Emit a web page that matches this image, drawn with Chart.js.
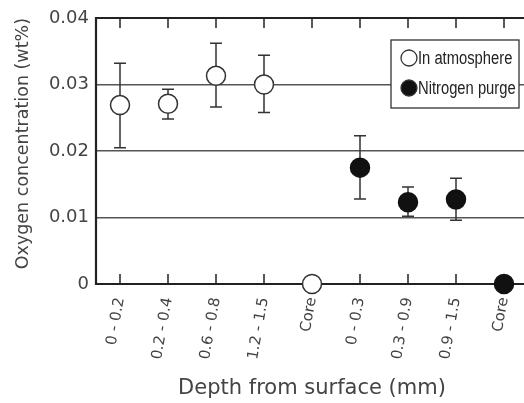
<!DOCTYPE html>
<html>
<head>
<meta charset="utf-8">
<script src="https://cdn.jsdelivr.net/npm/chart.js@4.4.0/dist/chart.umd.min.js"></script>
<style>
  html, body { margin: 0; padding: 0; background: #fff; overflow: hidden; }
  #wrap { width: 540px; height: 403px; }
</style>
</head>
<body>
<div id="wrap"><canvas id="chart" width="540" height="403"></canvas></div>
<script>
// categories along the depth axis
const depthLabels = ['0 - 0.2', '0.2 - 0.4', '0.6 - 0.8', '1.2 - 1.5', 'Core', '0 - 0.3', '0.3 - 0.9', '0.9 - 1.5', 'Core'];

// oxygen concentration (wt%)
const atmosphere    = [0.0269, 0.0271, 0.0313, 0.0300, 0, null, null, null, null];
const atmosphereHi  = [0.0332, 0.0293, 0.0362, 0.0344, null, null, null, null, null];
const atmosphereLo  = [0.0205, 0.0248, 0.0266, 0.0258, null, null, null, null, null];

const nitrogen      = [null, null, null, null, null, 0.0175, 0.0123, 0.0127, 0];
const nitrogenHi    = [null, null, null, null, null, 0.0223, 0.0146, 0.0159, null];
const nitrogenLo    = [null, null, null, null, null, 0.0128, 0.0102, 0.0096, null];

const yTicks = [0, 0.01, 0.02, 0.03, 0.04];

const ink = '#333';
const textInk = '#444';
const face = '"DejaVu Sans", sans-serif';

// error bars, drawn under the markers
const errorBars = {
  id: 'errorBars',
  beforeDatasetsDraw(chart) {
    const { ctx, scales: { x, y } } = chart;
    const sets = [[atmosphereHi, atmosphereLo], [nitrogenHi, nitrogenLo]];
    ctx.save();
    ctx.strokeStyle = ink;
    ctx.lineWidth = 1.5;
    sets.forEach(([hi, lo]) => {
      hi.forEach((h, i) => {
        if (h == null) return;
        const px = x.getPixelForValue(i);
        const top = y.getPixelForValue(h);
        const bot = y.getPixelForValue(lo[i]);
        ctx.beginPath();
        ctx.moveTo(px, top); ctx.lineTo(px, bot);
        ctx.moveTo(px - 6, top); ctx.lineTo(px + 6, top);
        ctx.moveTo(px - 6, bot); ctx.lineTo(px + 6, bot);
        ctx.stroke();
      });
    });
    ctx.restore();
  }
};

// frame and inward ticks
const frame = {
  id: 'frame',
  beforeDatasetsDraw(chart) {
    const { ctx, chartArea: a, scales: { x } } = chart;
    ctx.save();
    ctx.strokeStyle = '#222';
    ctx.lineWidth = 1.5;
    x.ticks.forEach((t, i) => {
      const px = x.getPixelForTick(i);
      ctx.beginPath();
      ctx.moveTo(px, a.bottom); ctx.lineTo(px, a.bottom - 10);
      ctx.moveTo(px, a.top); ctx.lineTo(px, a.top + 10);
      ctx.stroke();
    });
    ctx.lineWidth = 2.2;
    ctx.beginPath();
    ctx.moveTo(a.right + 5, a.top);
    ctx.lineTo(a.left, a.top);
    ctx.lineTo(a.left, a.bottom);
    ctx.lineTo(a.right + 5, a.bottom);
    ctx.stroke();
    ctx.restore();
  }
};

// boxed legend in the upper right (condensed text)
const boxLegend = {
  id: 'boxLegend',
  afterDraw(chart) {
    const { ctx } = chart;
    ctx.save();
    ctx.fillStyle = '#fff';
    ctx.fillRect(391, 40, 128, 68);
    ctx.strokeStyle = ink;
    ctx.lineWidth = 1.3;
    ctx.strokeRect(391, 40, 128, 68);
    const rows = [['In atmosphere', '#fff', 58], ['Nitrogen purge', '#111', 88]];
    rows.forEach(([label, fill, cy]) => {
      ctx.beginPath();
      ctx.arc(409, cy, 8, 0, Math.PI * 2);
      ctx.fillStyle = fill;
      ctx.fill();
      ctx.lineWidth = 1.3;
      ctx.strokeStyle = ink;
      ctx.stroke();
      ctx.save();
      ctx.translate(418, cy);
      ctx.scale(0.82, 1);
      ctx.fillStyle = '#222';
      ctx.font = '18px "Liberation Sans", sans-serif';
      ctx.textBaseline = 'middle';
      ctx.fillText(label, 0, 1);
      ctx.restore();
    });
    ctx.restore();
  }
};

new Chart(document.getElementById('chart'), {
  type: 'line',
  data: {
    labels: depthLabels,
    datasets: [
      {
        label: 'In atmosphere',
        data: atmosphere,
        showLine: false,
        pointRadius: 9.5,
        pointBackgroundColor: '#fff',
        pointBorderColor: ink,
        pointBorderWidth: 1.5,
        clip: false
      },
      {
        label: 'Nitrogen purge',
        data: nitrogen,
        showLine: false,
        pointRadius: 9.5,
        pointBackgroundColor: '#111',
        pointBorderColor: '#111',
        pointBorderWidth: 1.5,
        clip: false
      }
    ]
  },
  options: {
    responsive: false,
    animation: false,
    layout: { padding: { top: 18, right: 12, left: 0, bottom: 0 } },
    plugins: { legend: { display: false }, tooltip: { enabled: false } },
    scales: {
      x: {
        offset: true,
        afterFit(scale) { scale.height = 119; },
        grid: { display: false, drawTicks: false },
        border: { display: false },
        ticks: {
          color: textInk,
          font: { family: face, size: 15 },
          minRotation: 80,
          maxRotation: 80,
          padding: 12,
          autoSkip: false
        },
        title: {
          display: true,
          text: 'Depth from surface (mm)',
          color: textInk,
          font: { family: face, size: 21 },
          padding: { top: 4, bottom: 2 }
        }
      },
      y: {
        min: 0,
        max: 0.04,
        afterFit(scale) { scale.width = 96; },
        afterBuildTicks(scale) { scale.ticks = yTicks.map(v => ({ value: v })); },
        grid: {
          drawTicks: false,
          lineWidth: 1.4,
          color: ctx => (ctx.tick && (ctx.tick.value === 0 || ctx.tick.value === 0.04)) ? 'rgba(0,0,0,0)' : '#555'
        },
        border: { display: false },
        ticks: {
          color: textInk,
          font: { family: face, size: 18 },
          padding: 7,
          callback: v => v === 0 ? '0' : v.toFixed(2)
        },
        title: {
          display: true,
          text: 'Oxygen concentration (wt%)',
          color: textInk,
          align: 'end',
          font: { family: face, size: 17.5 },
          padding: { top: 13, bottom: 0 }
        }
      }
    }
  },
  plugins: [frame, errorBars, boxLegend]
});
</script>
</body>
</html>
